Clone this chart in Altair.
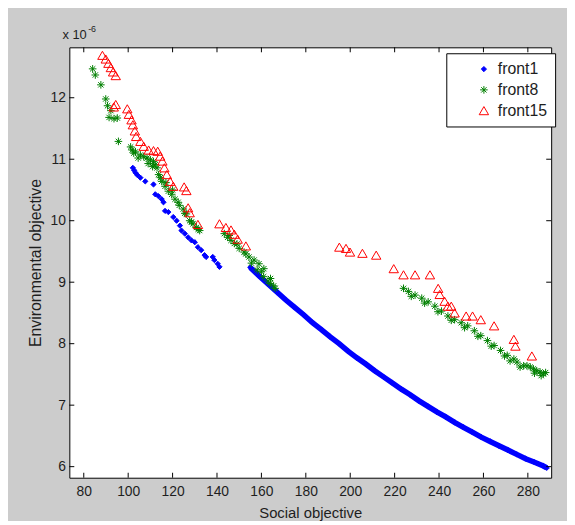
import altair as alt
import pandas as pd

# ---------------- data (y in units of 1e-6) ----------------
f1_x = [102.1, 102.7, 103.3, 104.2, 105.5, 107.7, 111.4, 112.2, 113.6, 115.1, 115.9, 116.6, 118.1,
        120.3, 121.8, 123.3, 124.0, 125.5, 127.0, 128.5, 130.0, 131.4, 132.9, 134.4, 135.1, 138.1,
        138.8, 140.3, 141.1]
f1_y = [10.86, 10.82, 10.78, 10.74, 10.70, 10.64, 10.59, 10.43, 10.40, 10.35, 10.30, 10.16, 10.14,
        10.06, 10.00, 9.92, 9.84, 9.79, 9.73, 9.68, 9.65, 9.57, 9.52, 9.44, 9.41, 9.41,
        9.36, 9.30, 9.25]
f1b_x = [155, 159, 163, 167, 171, 175, 179, 183, 187, 191, 195, 199, 203, 207, 211, 215, 219, 223,
         227, 231, 235, 239, 243, 247, 251, 255, 259, 263, 267, 271, 275, 279, 283, 287, 288.5]
f1b_y = [9.24, 9.10, 8.97, 8.84, 8.71, 8.59, 8.47, 8.34, 8.23, 8.11, 8.00, 7.88, 7.77, 7.67, 7.56,
         7.46, 7.36, 7.26, 7.17, 7.07, 6.98, 6.89, 6.81, 6.72, 6.64, 6.56, 6.48, 6.41, 6.34, 6.27,
         6.20, 6.13, 6.07, 6.01, 5.98]

f8_x = [84.0, 85.2, 87.7, 89.9, 90.7, 92.2, 91.4, 93.6, 95.1, 95.6, 101.1, 101.8, 103.3, 105.5,
        107.0, 108.5, 110.0, 111.4, 112.2, 113.0, 113.7, 115.1, 116.6, 118.1, 119.6, 121.1, 122.5,
        124.8, 126.2, 127.7, 129.2, 130.7, 132.2,
        102.5, 104.5, 109.0, 111.0, 114.5, 117.0, 120.0, 123.0, 125.5, 128.5, 131.5,
        143.3, 144.8, 146.3, 147.8, 150.0, 152.2, 154.4, 156.7, 158.9, 161.1, 164.1, 158.1, 161.0,
        164.0, 166.2, 145.5, 149.0, 153.0, 155.5, 160.0, 163.0, 165.5,
        224.0, 226.2, 229.2, 232.2, 235.1, 238.1, 241.1, 244.0, 247.0, 250.0, 252.9, 255.9, 258.8,
        261.8, 264.8, 267.7, 270.7, 273.7, 275.1, 278.1, 279.6, 281.1, 282.5, 284.0, 285.5, 287.0,
        227.5, 233.5, 239.5, 245.5, 251.5, 257.5, 263.5, 269.5, 272.0, 276.5, 283.0, 286.0, 288.0]
f8_y = [12.47, 12.37, 12.21, 11.98, 11.87, 11.79, 11.68, 11.66, 11.67, 11.29, 11.20, 11.15, 11.12,
        11.07, 11.04, 11.02, 10.99, 10.96, 10.91, 10.86, 10.75, 10.64, 10.56, 10.48, 10.43, 10.35,
        10.30, 10.19, 10.11, 10.00, 9.95, 9.89, 9.84,
        11.10, 11.02, 10.93, 10.88, 10.70, 10.62, 10.50, 10.25, 10.12, 9.98, 9.86,
        9.79, 9.73, 9.68, 9.63, 9.55, 9.49, 9.41, 9.36, 9.30, 9.22, 9.06, 9.20, 9.09,
        8.98, 8.90, 9.76, 9.62, 9.46, 9.31, 9.17, 9.02, 8.94,
        8.90, 8.85, 8.79, 8.74, 8.68, 8.61, 8.53, 8.45, 8.39, 8.34, 8.29, 8.21, 8.13,
        8.05, 7.97, 7.89, 7.81, 7.75, 7.70, 7.64, 7.64, 7.62, 7.59, 7.56, 7.54, 7.51,
        8.77, 8.66, 8.52, 8.38, 8.26, 8.12, 7.96, 7.80, 7.72, 7.62, 7.52, 7.48, 7.53]

f15_x = [88.4, 89.9, 91.1, 92.2, 93.2, 94.4, 93.5, 94.4, 99.6, 100.3, 101.5, 102.1, 103.0, 103.6,
         105.5, 107.0, 109.2, 111.4, 113.3, 114.4, 115.4, 116.3, 117.4, 118.9, 120.3, 125.2, 126.2,
         127.0, 127.7, 131.4, 141.1, 144.0, 146.3, 147.8, 149.3, 153.0, 195.1, 198.1, 199.9, 205.5,
         211.7, 219.6, 224.0, 229.2, 235.9, 239.6, 240.3, 242.5, 244.0, 245.5, 247.0, 252.2, 255.1,
         258.8, 264.8, 273.7, 274.4, 281.8]
f15_y = [12.69, 12.63, 12.56, 12.49, 12.42, 12.36, 11.85, 11.89, 11.82, 11.73, 11.64, 11.56, 11.46,
         11.37, 11.29, 11.21, 11.15, 11.14, 11.13, 11.05, 10.97, 10.86, 10.75, 10.64, 10.56, 10.55,
         10.49, 10.21, 10.13, 9.94, 9.95, 9.89, 9.85, 9.78, 9.70, 9.59, 9.57, 9.55, 9.49, 9.47,
         9.44, 9.22, 9.12, 9.12, 9.12, 8.90, 8.80, 8.69, 8.61, 8.61, 8.50, 8.45, 8.45, 8.39, 8.29,
         8.07, 7.96, 7.80]

series_names = ["front1", "front8", "front15"]
x_ticks = [80, 100, 120, 140, 160, 180, 200, 220, 240, 260, 280]
y_ticks = [6, 7, 8, 9, 10, 11, 12]

# ---------------- tables ----------------
rows = []
for x, y in zip(f1_x + f1b_x, f1_y + f1b_y):
    rows.append({"series": "front1", "x": x, "y": y})
for x, y in zip(f8_x, f8_y):
    rows.append({"series": "front8", "x": x, "y": y})
for x, y in zip(f15_x, f15_y):
    rows.append({"series": "front15", "x": x, "y": y})
df = pd.DataFrame(rows)
line_df = pd.DataFrame({"x": f1b_x, "y": f1b_y})
xt = pd.DataFrame({"t": x_ticks})
yt = pd.DataFrame({"t": y_ticks})

W, H = 487, 435
FONT = "Liberation Sans"
TXT = "#1e1e1e"

xs = alt.Scale(domain=[73.5, 290.5], nice=False, zero=False)
ys = alt.Scale(domain=[5.82, 12.82], nice=False, zero=False)

x_axis = alt.Axis(values=x_ticks, title="Social objective", ticks=False, tickSize=0, domain=False,
                  grid=False, labelPadding=7, labelFont=FONT, labelFontSize=14, labelColor=TXT,
                  titleFont=FONT, titleFontSize=15, titleFontWeight="normal", titleColor=TXT,
                  titlePadding=7)
y_axis = alt.Axis(values=y_ticks, title="Environmental objective", ticks=False, tickSize=0,
                  domain=False, grid=False, labelPadding=4, labelFont=FONT, labelFontSize=14,
                  labelColor=TXT, titleFont=FONT, titleFontSize=16, titleFontWeight="normal",
                  titleColor=TXT, titlePadding=7)

legend = alt.Legend(title=None, orient="none", legendX=381, legendY=6, padding=8,
                    strokeColor="black", fillColor="white", cornerRadius=0, labelFont=FONT,
                    labelFontSize=16, labelColor=TXT, rowPadding=5,
                    labelOffset=6, symbolStrokeWidth=1)

ast = "M-1,0L1,0M0,-1L0,1M-0.7,-0.7L0.7,0.7M-0.7,0.7L0.7,-0.7"

X = alt.X("x:Q", scale=xs, axis=x_axis)
Y = alt.Y("y:Q", scale=ys, axis=y_axis)

line = alt.Chart(line_df).mark_line(color="#0000ff", strokeWidth=5.5).encode(x=X, y=Y)

points = alt.Chart(df).mark_point(strokeWidth=1, opacity=1).encode(
    x=X, y=Y,
    stroke=alt.Stroke("series:N", sort=series_names,
                      scale=alt.Scale(domain=series_names, range=["#0000ff", "#008000", "#ff0000"]),
                      legend=legend),
    fill=alt.Fill("series:N", sort=series_names,
                  scale=alt.Scale(domain=series_names, range=["#0000ff", "transparent", "transparent"]),
                  legend=legend),
    shape=alt.Shape("series:N", sort=series_names,
                    scale=alt.Scale(domain=series_names, range=["diamond", ast, "triangle-up"]),
                    legend=legend),
    size=alt.Size("series:N", sort=series_names,
                  scale=alt.Scale(domain=series_names, range=[28, 90, 120]),
                  legend=legend),
)

tick_bottom = alt.Chart(xt).mark_rule(color="black", strokeWidth=1).encode(
    x=alt.X("t:Q", scale=xs, axis=x_axis), y=alt.value(H), y2=alt.value(H - 5))
tick_top = alt.Chart(xt).mark_rule(color="black", strokeWidth=1).encode(
    x=alt.X("t:Q", scale=xs, axis=x_axis), y=alt.value(0), y2=alt.value(5))
tick_left = alt.Chart(yt).mark_rule(color="black", strokeWidth=1).encode(
    y=alt.Y("t:Q", scale=ys, axis=y_axis), x=alt.value(0), x2=alt.value(5))
tick_right = alt.Chart(yt).mark_rule(color="black", strokeWidth=1).encode(
    y=alt.Y("t:Q", scale=ys, axis=y_axis), x=alt.value(W), x2=alt.value(W - 5))

one = pd.DataFrame({"k": [0]})
exp_base = alt.Chart(one).mark_text(align="left", baseline="alphabetic", font=FONT, fontSize=13,
                                    color=TXT).encode(x=alt.value(-7), y=alt.value(-8),
                                                      text=alt.value("x 10"))
exp_sup = alt.Chart(one).mark_text(align="left", baseline="alphabetic", font=FONT, fontSize=9,
                                   color=TXT).encode(x=alt.value(19), y=alt.value(-15),
                                                     text=alt.value("-6"))

chart = alt.layer(line, points, tick_bottom, tick_top, tick_left, tick_right, exp_base, exp_sup).properties(
    width=W, height=H,
    background="#cccccc",
    padding={"left": 62, "top": 37, "right": 16, "bottom": 41},
    autosize=alt.AutoSizeParams(type="none"),
).configure_view(fill="white", stroke="black", strokeWidth=1).configure_legend(symbolOffset=22)

chart.save("out.html", embed_options={"renderer": "svg", "actions": False})
